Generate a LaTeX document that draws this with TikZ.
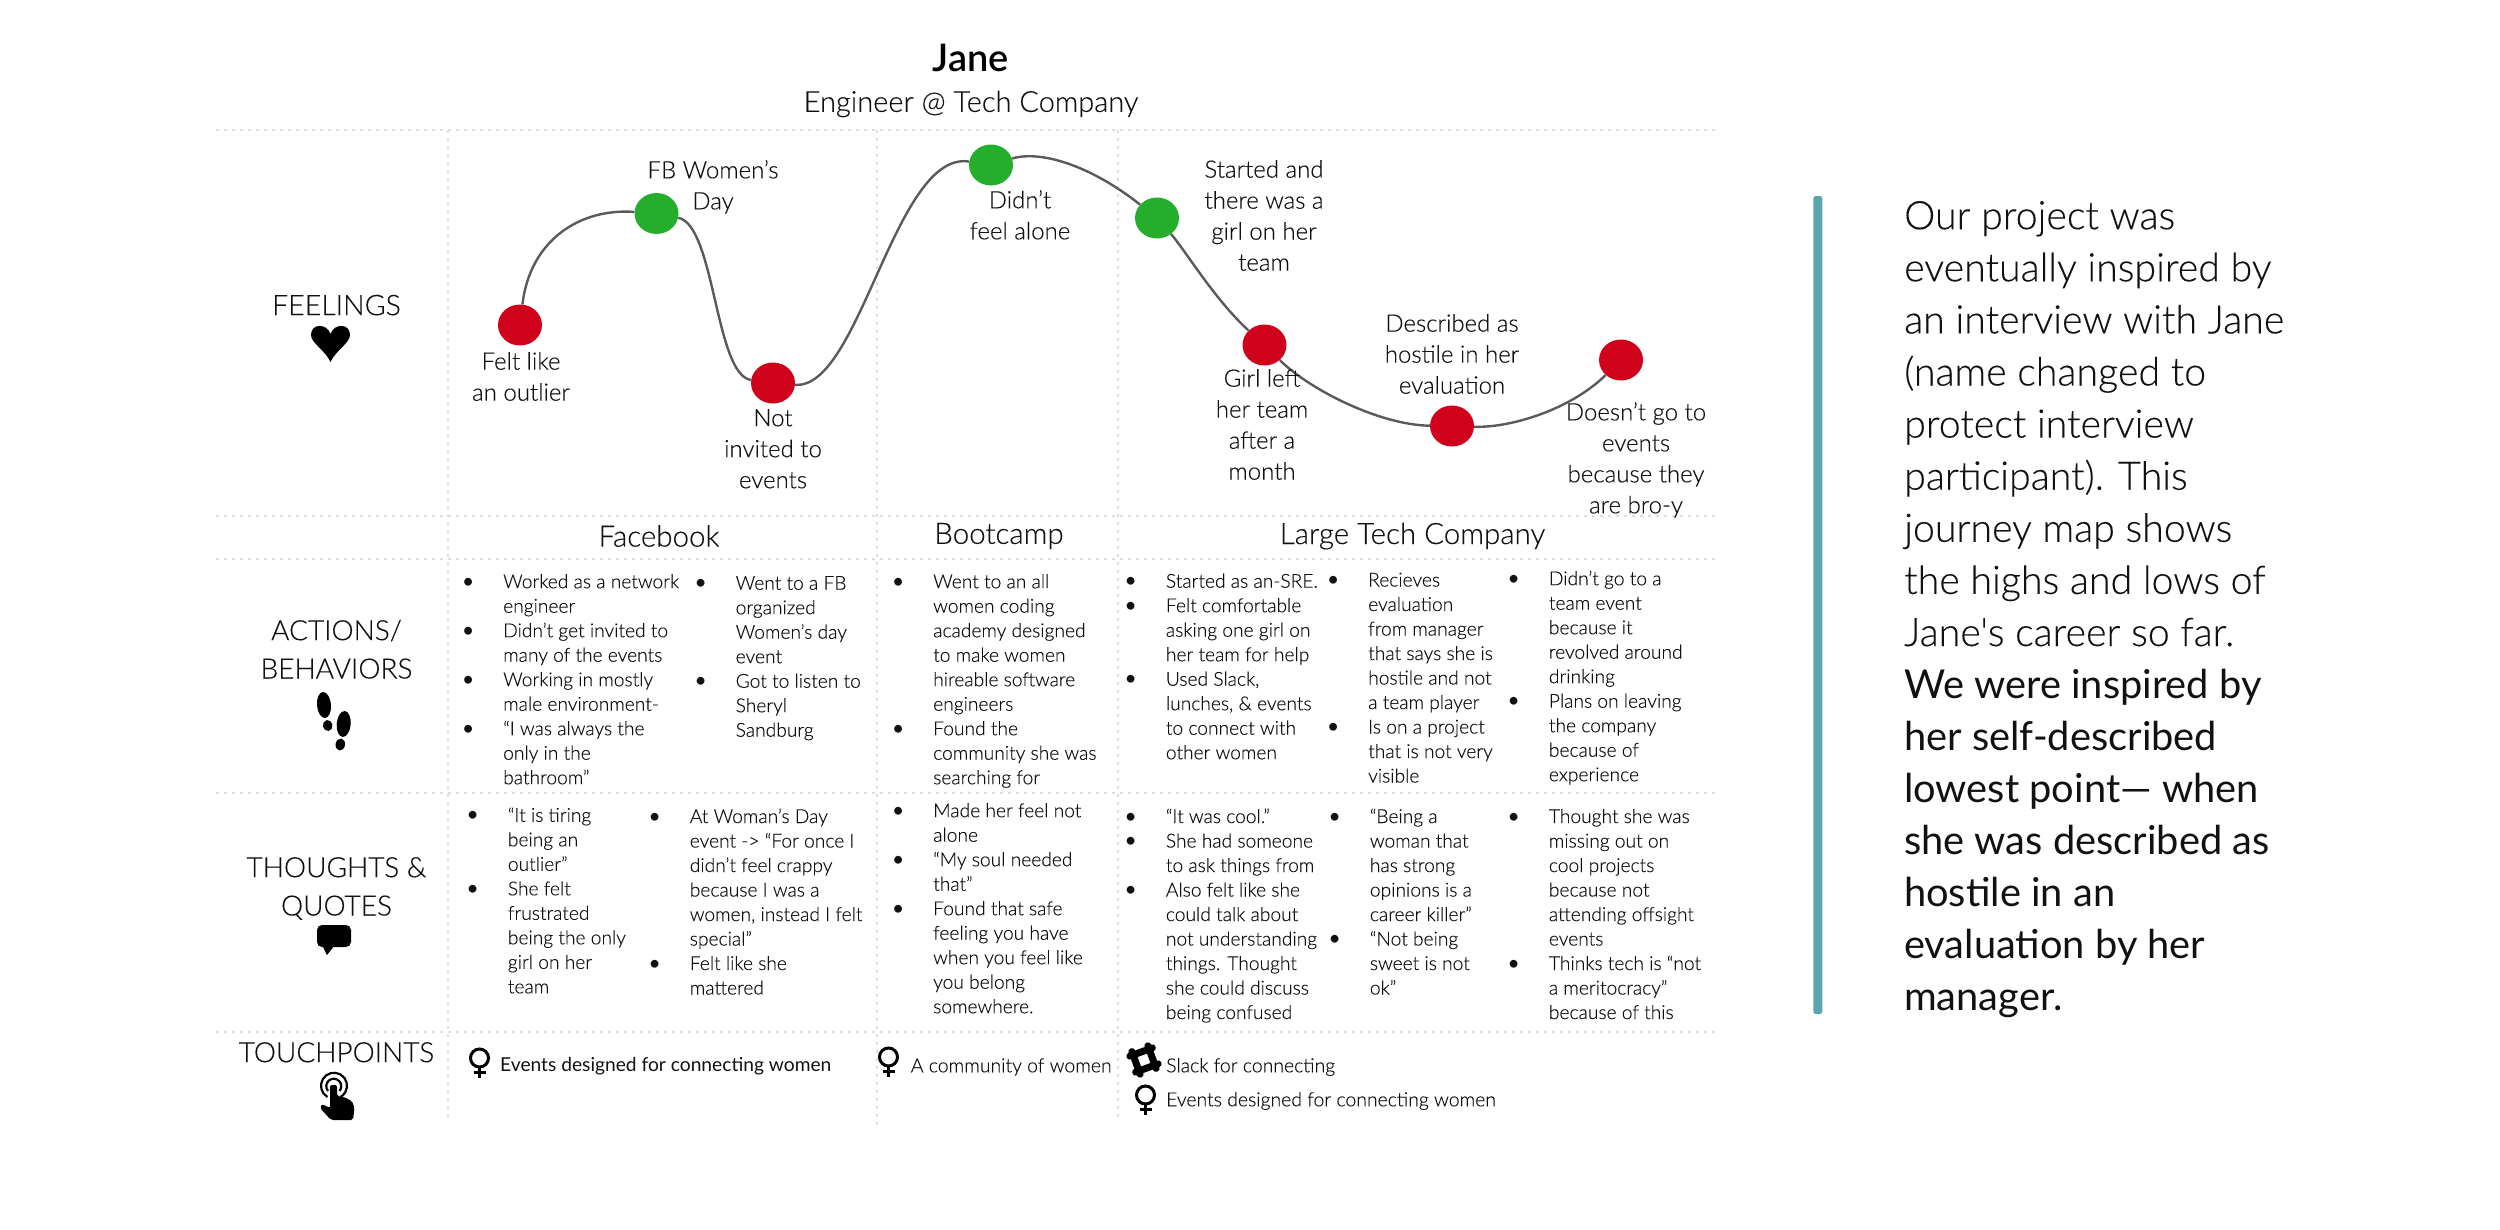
\documentclass[tikz,border=0pt]{standalone}
\usepackage{fontspec}
\usetikzlibrary{shapes.geometric}
\setmainfont{Lato Light}[FakeBold=0.2]
\newfontfamily\regfont{Lato}
\newfontfamily\demifont{Lato Semibold}
\newfontfamily\panelfont{Lato Light}[FakeBold=0.2]
\newfontfamily\panelbold{Lato}
\definecolor{ink}{HTML}{111111}
\definecolor{gridc}{HTML}{DEDEDE}
\definecolor{curvec}{HTML}{5A5A5A}
\definecolor{lowc}{HTML}{D0021B}
\definecolor{highc}{HTML}{25AE2B}
\definecolor{barc}{HTML}{5BA5B0}
\newcommand{\st}{\rule{0pt}{17pt}}
\newcommand{\bu}{\llap{{\regfont\fontsize{21}{24.5}\selectfont •}\hspace{29pt}}}
\tikzset{
  gridline/.style={draw=gridc,line width=2pt,dash pattern=on 2.5pt off 5.5pt},
  low/.style={ellipse,fill=lowc,minimum width=44pt,minimum height=41pt,inner sep=0pt},
  high/.style={ellipse,fill=highc,minimum width=44pt,minimum height=41pt,inner sep=0pt},
  journey/.style={draw=curvec,line width=2.4pt},
  lab/.style={inner sep=0pt,align=center,text=ink,anchor=north,font=\fontsize{24}{31}\selectfont},
  rowlab/.style={inner sep=0pt,align=center,text=ink,anchor=north,font=\fontsize{28}{38.3}\selectfont},
  head/.style={inner sep=0pt,text=ink,font=\fontsize{29.5}{34}\selectfont},
  cell/.style={inner sep=0pt,align=left,anchor=north west,text=ink,font=\fontsize{19.2}{24.5}\selectfont},
  touch/.style={inner sep=0pt,anchor=west,text=ink,font=\fontsize{19.4}{24.5}\selectfont},
  venus/.pic={
    \draw[black,line width=3pt] (0,0) circle (9);
    \draw[black,line width=3pt] (0,9) -- (0,20);
    \draw[black,line width=3pt] (-6,14.5) -- (6,14.5);
  }
}
\begin{document}
\begin{tikzpicture}[x=1pt,y=-1pt]
\useasboundingbox (0,0) rectangle (2500,1229);
% grid
\foreach \yy in {130,515.5,559,793,1031.5} \draw[gridline] (216,\yy) -- (1716,\yy);
\draw[gridline] (448,130) -- (448,1121);
\draw[gridline] (877,130) -- (877,1125);
\draw[gridline] (1118,130) -- (1118,1119);
% title
\node[inner sep=0pt,text=black,font=\demifont\fontsize{38}{40}\selectfont] (title) at (971,58) {Jane};
\node[inner sep=0pt,text=ink,font=\fontsize{29}{34}\selectfont] (subtitle) at (971,104) {Engineer @ Tech Company};
% journey
\node[low] (r1) at (520,325) {};
\node[high] (g1) at (656.5,213.5) {};
\node[low] (r2) at (773,383) {};
\node[high] (g2) at (991,165) {};
\node[high] (g3) at (1157,218) {};
\node[low] (r3) at (1264.5,345) {};
\node[low] (r4) at (1452,426) {};
\node[low] (r5) at (1621,360) {};
\draw[journey] (r1) .. controls (530,240) and (580,208) .. (g1);
\draw[journey] (g1) .. controls (715,225) and (715,375) .. (r2);
\draw[journey] (r2) .. controls (860,390) and (895,150) .. (g2);
\draw[journey] (g2) .. controls (1040,150) and (1090,165) .. (g3);
\draw[journey] (g3) .. controls (1185,250) and (1215,300) .. (r3);
\draw[journey] (r3) .. controls (1310,390) and (1380,425) .. (r4);
\draw[journey] (r4) .. controls (1510,428) and (1570,410) .. (r5);
% journey labels
\node[lab] (l1) at (521,352) {\st Felt like\\an outlier};
\node[lab] (l2) at (713,160) {\st FB Women’s\\Day};
\node[lab] (l3) at (773,409) {\st Not\\invited to\\events};
\node[lab] (l4) at (1020,190) {\st Didn’t\\feel alone};
\node[lab] (l5) at (1264,160) {\st Started and\\there was a\\girl on her\\team};
\node[lab] (l6) at (1262,369) {\st Girl left\\her team\\after a\\month};
\node[lab] (l7) at (1452,314) {\st Described as\\hostile in her\\evaluation};
\node[lab] (l8) at (1636,402) {\st Doesn’t go to\\events\\because they\\are bro-y};
% row labels
\node[rowlab,font=\fontsize{28.5}{38.3}\selectfont] (rf) at (336.5,293) {\rule{0pt}{22pt}FEELINGS};
\node[rowlab] (ra) at (336.5,618) {\rule{0pt}{22pt}ACTIONS/\\BEHAVIORS};
\node[rowlab] (rt) at (336.5,855) {\rule{0pt}{22pt}THOUGHTS \&\\QUOTES};
\node[rowlab] (rp) at (336.5,1040) {\rule{0pt}{22pt}TOUCHPOINTS};
% column heads
\node[head] (cf) at (659,536) {Facebook};
\node[head] (cb) at (999,536) {Bootcamp};
\node[head] (ct) at (1412.5,536) {Large Tech Company};
% actions
\node[cell] (a1) at (503,571) {\st\bu Worked as a network\\engineer\\\bu Didn’t get invited to\\many of the events\\\bu Working in mostly\\male environment-\\\bu “I was always the\\only in the\\bathroom”};
\node[cell] (a2) at (735.5,572.5) {\st\bu Went to a FB\\organized\\Women’s day\\event\\\bu Got to listen to\\Sheryl\\Sandburg};
\node[cell] (a3) at (933,571) {\st\bu Went to an all\\women coding\\academy designed\\to make women\\hireable software\\engineers\\\bu Found the\\community she was\\searching for};
\node[cell] (a4) at (1165.7,570.5) {\st\bu Started as an-SRE.\\\bu Felt comfortable\\asking one girl on\\her team for help\\\bu Used Slack,\\lunches, \& events\\to connect with\\other women};
\node[cell] (a5) at (1368,569.3) {\st\bu Recieves\\evaluation\\from manager\\that says she is\\hostile and not\\a team player\\\bu Is on a project\\that is not very\\visible};
\node[cell] (a6) at (1548.7,568) {\st\bu Didn’t go to a\\team event\\because it\\revolved around\\drinking\\\bu Plans on leaving\\the company\\because of\\experience};
% thoughts
\node[cell] (t1) at (507.7,804.6) {\st\bu “It is tiring\\being an\\outlier”\\\bu She felt\\frustrated\\being the only\\girl on her\\team};
\node[cell] (t2) at (689.6,805.8) {\st\bu At Woman’s Day\\event -> “For once I\\didn’t feel crappy\\because I was a\\women, instead I felt\\special”\\\bu Felt like she\\mattered};
\node[cell] (t3) at (933,800) {\st\bu Made her feel not\\alone\\\bu “My soul needed\\that”\\\bu Found that safe\\feeling you have\\when you feel like\\you belong\\somewhere.};
\node[cell] (t4) at (1165.7,805.8) {\st\bu “It was cool.”\\\bu She had someone\\to ask things from\\\bu Also felt like she\\could talk about\\not understanding\\things. Thought\\she could discuss\\being confused};
\node[cell] (t5) at (1369.7,805.8) {\st\bu “Being a\\woman that\\has strong\\opinions is a\\career killer”\\\bu “Not being\\sweet is not\\ok”};
\node[cell] (t6) at (1548.7,805.8) {\st\bu Thought she was\\missing out on\\cool projects\\because not\\attending offsight\\events\\\bu Thinks tech is “not\\a meritocracy”\\because of this};
% touchpoints
\node[touch,font=\regfont\fontsize{19.2}{24.5}\selectfont] (p1) at (500,1066) {Events designed for connecting women};
\node[touch] (p2) at (910.6,1067) {A community of women};
\node[touch] (p3) at (1166,1067) {Slack for connecting};
\node[touch] (p4) at (1166,1101) {Events designed for connecting women};
\pic at (479.5,1058) {venus};
\pic at (888.5,1057) {venus};
\pic at (1145.5,1095) {venus};
% slack icon
\begin{scope}[shift={(1144,1060)},rotate=20]
  \foreach \v in {-8.5,8.5}{
    \draw[black,line width=7pt,line cap=round] (\v,-12) -- (\v,12);
    \draw[black,line width=7pt,line cap=round] (-12,\v) -- (12,\v);
  }
\end{scope}
% heart
\fill[black] (330.5,362) .. controls (325,350) and (311,343) .. (311,335) .. controls (311,323) and (327,323) .. (330.5,334) .. controls (334,323) and (350,323) .. (350,335) .. controls (350,343) and (336,350) .. (330.5,362) -- cycle;
% footprints
\fill[black,rotate around={5:(324,705)}] (324,705) ellipse [x radius=7,y radius=13];
\fill[black,rotate around={10:(327.7,725.5)}] (327.7,725.5) ellipse [x radius=4.8,y radius=5.5];
\fill[black,rotate around={-5:(343.7,724)}] (343.7,724) ellipse [x radius=7,y radius=13];
\fill[black,rotate around={-10:(340.3,744.5)}] (340.3,744.5) ellipse [x radius=4.7,y radius=6];
% speech bubble
\fill[black,rounded corners=5pt] (317,925) rectangle (351,947);
\fill[black] (322,945) -- (335,945) -- (327,955) -- cycle;
% touch hand
\draw[black,line width=2.2pt] (327.5,1097) arc [start angle=120,end angle=420,radius=13];
\draw[black,line width=2.2pt] (328,1091) arc [start angle=140,end angle=400,radius=7.5];
\fill[black,rounded corners=2pt] (330,1085) -- (337,1085) -- (337,1096) -- (344,1097) -- (352,1101) -- (354.5,1108) -- (353,1120) -- (331,1120) -- (320,1108) -- (322,1104) -- (330,1108) -- cycle;
% side panel
\fill[barc,rounded corners=2.5pt] (1813.3,196) rectangle (1822.3,1014);
\node[inner sep=0pt,anchor=north west,align=left,text=ink,font=\panelfont\fontsize{39.3}{52.1}\selectfont] (panel) at (1904,193) {\rule{0pt}{36pt}Our project was\\eventually inspired by\\an interview with Jane\\(name changed to\\protect interview\\participant). This\\journey map shows\\the highs and lows of\\Jane's career so far.\\{\panelbold\fontsize{39.8}{52.1}\selectfont We were inspired by}\\{\panelbold\fontsize{39.8}{52.1}\selectfont her self-described}\\{\panelbold\fontsize{39.8}{52.1}\selectfont lowest point— when}\\{\panelbold\fontsize{39.8}{52.1}\selectfont she was described as}\\{\panelbold\fontsize{39.8}{52.1}\selectfont hostile in an}\\{\panelbold\fontsize{39.8}{52.1}\selectfont evaluation by her}\\{\panelbold\fontsize{39.8}{52.1}\selectfont manager.}};
\end{tikzpicture}
\end{document}
